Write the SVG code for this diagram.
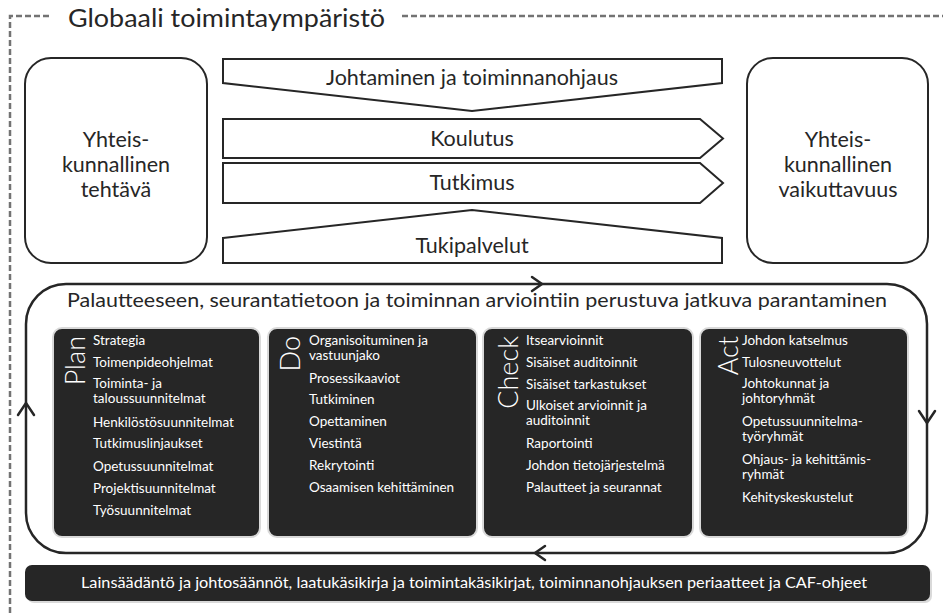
<svg xmlns="http://www.w3.org/2000/svg" width="943" height="613" viewBox="0 0 943 613">
<style>
.t{font-family:Lato,"Open Sans","Liberation Sans",sans-serif;fill:#262626}
.big{font-size:21.5px}
.c{text-anchor:middle}
.box{fill:#fff;stroke:#262626;stroke-width:2}
.panel{fill:#262626;stroke:#d9d9d9;stroke-width:2}
.it{font-family:Lato,"Open Sans","Liberation Sans",sans-serif;font-size:13.5px;fill:#fff}
.hd{font-family:Lato,"Open Sans","Liberation Sans",sans-serif;font-size:27px;font-weight:300;fill:#fff;text-anchor:end}
.dash{fill:none;stroke:#737373;stroke-width:2.5;stroke-dasharray:6 3}
.chev{fill:none;stroke:#262626;stroke-width:2.5;stroke-linecap:round;stroke-linejoin:miter}
</style>
<g id="env">
<path class="dash" d="M10,613 V16 H52"/>
<path class="dash" d="M402,16 H943"/>
<text class="t" x="68" y="27" font-size="25" textLength="317" lengthAdjust="spacingAndGlyphs">Globaali toimintaympäristö</text>
</g>
<g id="task">
<rect class="box" x="25" y="58" width="182" height="205" rx="26"/>
<text class="t big c" x="116" y="147">Yhteis-<tspan x="116" dy="25">kunnallinen</tspan><tspan x="116" dy="25">tehtävä</tspan></text>
</g>
<g id="impact">
<rect class="box" x="747" y="58" width="181" height="205" rx="26"/>
<text class="t big c" x="838" y="147">Yhteis-<tspan x="838" dy="25">kunnallinen</tspan><tspan x="838" dy="25">vaikuttavuus</tspan></text>
</g>
<g id="johtaminen">
<path class="box" d="M223,59 H722 V83 L472,111 L223,83 Z"/>
<text class="t big c" x="472" y="85">Johtaminen ja toiminnanohjaus</text>
</g>
<g id="koulutus">
<path class="box" d="M223,119 H700 L723,138.5 L700,158 H223 Z"/>
<text class="t big c" x="472" y="146">Koulutus</text>
</g>
<g id="tutkimus">
<path class="box" d="M223,163 H700 L723,183 L700,203 H223 Z"/>
<text class="t big c" x="472" y="190">Tutkimus</text>
</g>
<g id="tukipalvelut">
<path class="box" d="M223,238 L472,210 L722,238 V263 H223 Z"/>
<text class="t big c" x="472" y="253">Tukipalvelut</text>
</g>
<g id="loop">
<rect x="26" y="284" width="901" height="269" rx="40" fill="#fff" stroke="#262626" stroke-width="2.5"/>
<text class="t" x="67" y="307" font-size="20" textLength="820" lengthAdjust="spacingAndGlyphs">Palautteeseen, seurantatietoon ja toiminnan arviointiin perustuva jatkuva parantaminen</text>
</g>
<g id="plan">
<rect class="panel" x="53" y="328" width="207" height="209" rx="9"/>
<text class="hd" transform="translate(85,336) rotate(-90)">Plan</text>
<text class="it" x="93" y="345">Strategia</text>
<text class="it" x="93" y="367">Toimenpideohjelmat</text>
<text class="it" x="93" y="388">Toiminta- ja<tspan x="93" dy="15">taloussuunnitelmat</tspan></text>
<text class="it" x="93" y="427">Henkilöstösuunnitelmat</text>
<text class="it" x="93" y="448">Tutkimuslinjaukset</text>
<text class="it" x="93" y="471">Opetussuunnitelmat</text>
<text class="it" x="93" y="493">Projektisuunnitelmat</text>
<text class="it" x="93" y="515">Työsuunnitelmat</text>
</g>
<g id="do">
<rect class="panel" x="268" y="328" width="209" height="209" rx="9"/>
<text class="hd" transform="translate(300,336) rotate(-90)">Do</text>
<text class="it" x="309" y="345">Organisoituminen ja<tspan x="309" dy="15">vastuunjako</tspan></text>
<text class="it" x="309" y="383">Prosessikaaviot</text>
<text class="it" x="309" y="404">Tutkiminen</text>
<text class="it" x="309" y="426">Opettaminen</text>
<text class="it" x="309" y="448">Viestintä</text>
<text class="it" x="309" y="470">Rekrytointi</text>
<text class="it" x="309" y="492">Osaamisen kehittäminen</text>
</g>
<g id="check">
<rect class="panel" x="483" y="328" width="210" height="209" rx="9"/>
<text class="hd" transform="translate(518,336) rotate(-90)">Check</text>
<text class="it" x="526" y="345">Itsearvioinnit</text>
<text class="it" x="526" y="367">Sisäiset auditoinnit</text>
<text class="it" x="526" y="389">Sisäiset tarkastukset</text>
<text class="it" x="526" y="410">Ulkoiset arvioinnit ja<tspan x="526" dy="15">auditoinnit</tspan></text>
<text class="it" x="526" y="448">Raportointi</text>
<text class="it" x="526" y="470">Johdon tietojärjestelmä</text>
<text class="it" x="526" y="492">Palautteet  ja seurannat</text>
</g>
<g id="act">
<rect class="panel" x="700" y="328" width="208" height="209" rx="9"/>
<text class="hd" transform="translate(738,336) rotate(-90)">Act</text>
<text class="it" x="742" y="345">Johdon katselmus</text>
<text class="it" x="742" y="367">Tulosneuvottelut</text>
<text class="it" x="742" y="388">Johtokunnat ja<tspan x="742" dy="15">johtoryhmät</tspan></text>
<text class="it" x="742" y="426">Opetussuunnitelma-<tspan x="742" dy="15">työryhmät</tspan></text>
<text class="it" x="742" y="464">Ohjaus- ja kehittämis-<tspan x="742" dy="15">ryhmät</tspan></text>
<text class="it" x="742" y="502">Kehityskeskustelut</text>
</g>
<g id="base">
<rect x="27" y="567" width="905" height="36" rx="7" fill="#bfbfbf" opacity="0.6"/>
<rect x="25" y="565" width="905" height="36" rx="7" fill="#262626"/>
<text x="474" y="588" font-family="Lato,'Open Sans','Liberation Sans',sans-serif" font-size="15" fill="#fff" text-anchor="middle" textLength="786" lengthAdjust="spacingAndGlyphs">Lainsäädäntö ja johtosäännöt, laatukäsikirja  ja toimintakäsikirjat, toiminnanohjauksen periaatteet ja CAF-ohjeet</text>
</g>
<g id="connectors">
<path class="chev" d="M532,277 L542,284 L532,291"/>
<path class="chev" d="M919,411 L927,423 L935,411"/>
<path class="chev" d="M545,546 L535,553 L545,560"/>
<path class="chev" d="M18,415 L26,403 L34,415"/>
</g>
</svg>
